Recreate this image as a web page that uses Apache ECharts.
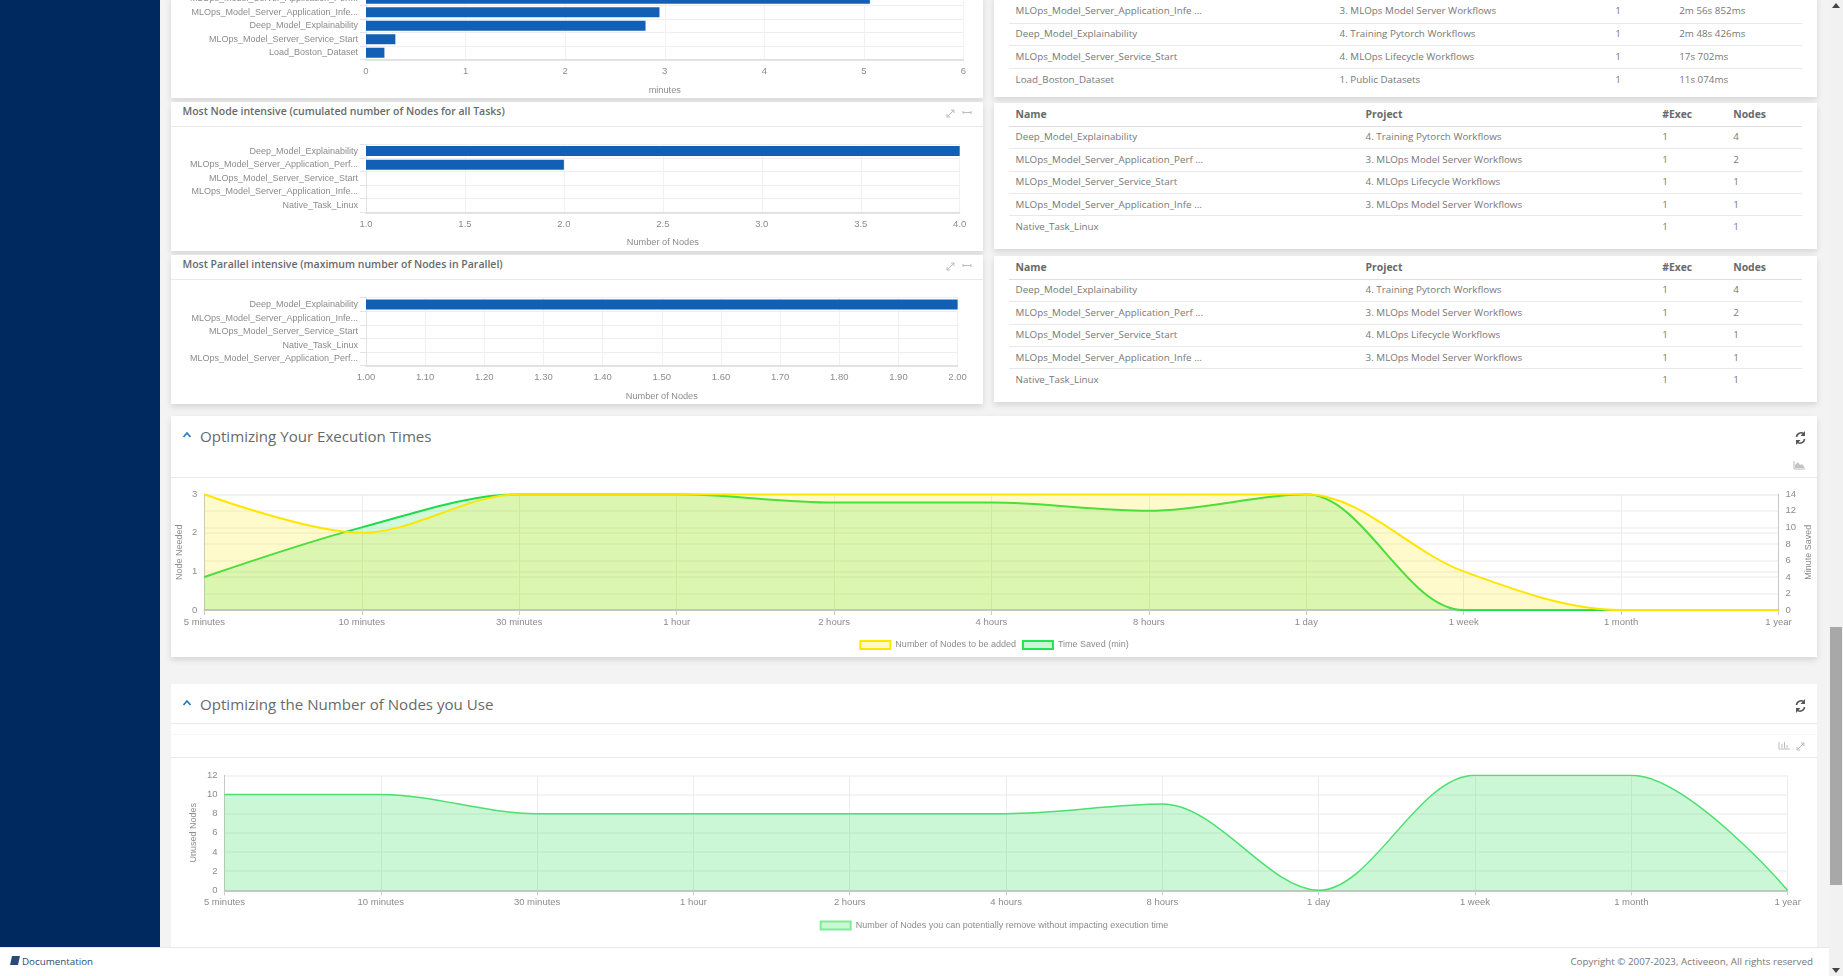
<!DOCTYPE html>
<html>
<head>
<meta charset="utf-8">
<title>Analytics</title>
<script src="https://cdn.jsdelivr.net/npm/echarts@6/dist/echarts.min.js"></script>
<style>
html,body{margin:0;padding:0;width:1843px;height:976px;overflow:hidden;background:#f3f3f4;font-family:"Open Sans",sans-serif;color:#676a6c;}
.abs{position:absolute;}
#side{left:0;top:0;width:160px;height:947px;background:#002a5f;}
.panel{position:absolute;background:#fff;box-shadow:0 3px 6px rgba(0,0,0,.12);}
.line{position:absolute;height:1px;background:#e7eaec;}
.ptitle{position:absolute;font-size:10.5px;font-weight:600;white-space:nowrap;line-height:16px;}
.stitle{position:absolute;font-size:15.1px;white-space:nowrap;line-height:22px;color:#676a6c;}
.chart{position:absolute;left:171px;}
table{position:absolute;left:1009px;width:793px;border-collapse:collapse;table-layout:fixed;font-size:9.800px;color:#777;}
td,th{padding:0 0 1.500px 6.6px;height:22.4px;border-bottom:1px solid #e7eaec;text-align:left;white-space:nowrap;overflow:hidden;box-sizing:border-box;}
th{color:#676a6c;font-weight:700;border-bottom:1px solid #dcdfe1;font-size:10.400px;padding-bottom:0;}
tr:last-child td{border-bottom:none;}
#tableTime td{height:22.800px;}
#foot{left:0;top:947px;width:1829px;height:29px;background:#fff;border-top:1px solid #e7eaec;box-sizing:border-box;font-size:9.800px;line-height:28px;}
#track{left:1829px;top:0;width:14px;height:976px;background:#f1f1f1;}
#thumb{left:1830px;top:627px;width:12px;height:258px;background:#a8a8a8;}
svg{position:absolute;overflow:visible;}
</style>
</head>
<body>
<div id="side" class="abs"></div>

<div class="panel" style="left:171px;top:-5px;width:812px;height:102.7px"></div>
<div class="panel" style="left:171px;top:101.7px;width:812px;height:149.3px"></div>
<div class="panel" style="left:171px;top:255px;width:812px;height:149.3px"></div>
<div class="panel" style="left:994px;top:-5px;width:823px;height:102.3px"></div>
<div class="panel" style="left:994px;top:103px;width:823px;height:146px"></div>
<div class="panel" style="left:994px;top:256px;width:823px;height:145.7px"></div>
<div class="panel" style="left:171px;top:415.7px;width:1646px;height:241.3px"></div>
<div class="panel" style="left:171px;top:684px;width:1646px;height:263px;box-shadow:none"></div>

<div class="line" style="left:171px;width:812px;top:126px"></div>
<div class="line" style="left:171px;width:812px;top:279px"></div>
<div class="line" style="left:171px;width:1646px;top:477px"></div>
<div class="line" style="left:171px;width:1646px;top:723px"></div>
<div class="line" style="left:171px;width:1646px;top:734px;background:#f6f6f6"></div>
<div class="line" style="left:171px;width:1646px;top:757px"></div>

<div class="ptitle" style="left:182.5px;top:103px">Most Node intensive (cumulated number of Nodes for all Tasks)</div>
<div class="ptitle" style="left:182.5px;top:256px">Most Parallel intensive (maximum number of Nodes in Parallel)</div>
<div class="stitle" style="left:200px;top:425px">Optimizing Your Execution Times</div>
<div class="stitle" style="left:200px;top:693px">Optimizing the Number of Nodes you Use</div>

<svg style="left:0;top:0" width="1" height="1" fill="none">
  <path d="M183.5 437 L187 433 L190.500 437" stroke="#2f7bbf" stroke-width="1.800"/>
  <path d="M183.500 705 L187 701 L190.500 705" stroke="#2f7bbf" stroke-width="1.800"/>
  <g stroke="#bbb" stroke-width="1">
    <path d="M947 117 L954 110 M951 110 L954 110 L954 113 M947 114 L947 117 L950 117"/>
    <path d="M963 112.500 L971 112.500 M963 111 L963 114 M971 111 L971 114"/>
    <path d="M947 270 L954 263 M951 263 L954 263 L954 266 M947 267 L947 270 L950 270"/>
    <path d="M963 265.500 L971 265.500 M963 264 L963 267 M971 264 L971 267"/>
    <path d="M1797 750 L1804 743 M1801 743 L1804 743 L1804 746 M1797 747 L1797 750 L1800 750"/>
    <path d="M1779 742 L1779 749 L1790 749 M1782 748 L1782 744 M1784.500 748 L1784.500 742 M1787 748 L1787 745"/>
    <path d="M1794 469 L1794 461 M1794 469 L1805 469"/>
  </g>
  <path d="M1795 468 L1795 465 L1798 462 L1800 465 L1802 464 L1805 468 Z" fill="#c4c4c4"/>
  <g stroke="#555" stroke-width="1.600">
    <path d="M1796.500 437 A4.500 4.500 0 0 1 1804 434 M1804.500 439 A4.500 4.500 0 0 1 1797 442"/>
    <path d="M1796.500 705 A4.500 4.500 0 0 1 1804 702 M1804.500 707 A4.500 4.500 0 0 1 1797 710"/>
  </g>
  <path d="M1805 431 L1805 436 L1800.500 436 Z M1796 445 L1796 440 L1800.500 440 Z M1805 699 L1805 704 L1800.500 704 Z M1796 713 L1796 708 L1800.500 708 Z" fill="#555"/>
</svg>

<div id="chartTime" class="chart" style="top:-30px;width:812px;height:127.700px"></div>
<div id="chartNode" class="chart" style="top:127px;width:812px;height:124px"></div>
<div id="chartParallel" class="chart" style="top:280px;width:812px;height:124px"></div>
<div id="chartExec" class="chart" style="top:478px;width:1646px;height:179px"></div>
<div id="chartUnused" class="chart" style="top:758px;width:1646px;height:189px"></div>

<table id="tableTime" style="top:0.300px"></table>
<table id="tableNode" style="top:103px"></table>
<table id="tableParallel" style="top:256px"></table>

<div id="foot" class="abs">
  <svg style="left:10px;top:8px" width="10" height="11"><path d="M2 0 H10 L8 9 H0 Z" fill="#2a4a78"/></svg>
  <span class="abs" style="left:22px;top:0;color:#2a4a78">Documentation</span>
  <span class="abs" style="right:16px;top:0;color:#777">Copyright © 2007-2023, Activeeon, All rights reserved</span>
</div>
<div id="track" class="abs"></div>
<div id="thumb" class="abs"></div>
<svg style="left:0;top:0" width="1" height="1">
  <path d="M1832 8 L1840 8 L1836 3 Z M1832 968 L1840 968 L1836 973 Z" fill="#444"/>
</svg>

<script>
// bar charts
const timeNames = ['MLOps_Model_Server_Application_Perf...','MLOps_Model_Server_Application_Infe...','Deep_Model_Explainability','MLOps_Model_Server_Service_Start','Load_Boston_Dataset'];
const timeValues = [5.06,2.947,2.807,0.295,0.185];
const nodeNames = ['Deep_Model_Explainability','MLOps_Model_Server_Application_Perf...','MLOps_Model_Server_Service_Start','MLOps_Model_Server_Application_Infe...','Native_Task_Linux'];
const nodeValues = [4,2,1,1,1];
const parallelNames = ['Deep_Model_Explainability','MLOps_Model_Server_Application_Infe...','MLOps_Model_Server_Service_Start','Native_Task_Linux','MLOps_Model_Server_Application_Perf...'];
const parallelValues = [2,1,1,1,1];

// area charts
const periods = ['5 minutes','10 minutes','30 minutes','1 hour','2 hours','4 hours','8 hours','1 day','1 week','1 month','1 year'];
const nodesToAdd = [3,2,3,3,3,3,3,3,1,0,0];
const timeSaved = [4,10,14,14,13,13,12,14,0,0,0];
const unusedNodes = [10,10,8,8,8,8,9,0,12,12,0];

// tables
const timeRows = [
  ['MLOps_Model_Server_Application_Infe ...','3. MLOps Model Server Workflows','1','2m 56s 852ms'],
  ['Deep_Model_Explainability','4. Training Pytorch Workflows','1','2m 48s 426ms'],
  ['MLOps_Model_Server_Service_Start','4. MLOps Lifecycle Workflows','1','17s 702ms'],
  ['Load_Boston_Dataset','1. Public Datasets','1','11s 074ms']
];
const nodeRows = [
  ['Deep_Model_Explainability','4. Training Pytorch Workflows','1','4'],
  ['MLOps_Model_Server_Application_Perf ...','3. MLOps Model Server Workflows','1','2'],
  ['MLOps_Model_Server_Service_Start','4. MLOps Lifecycle Workflows','1','1'],
  ['MLOps_Model_Server_Application_Infe ...','3. MLOps Model Server Workflows','1','1'],
  ['Native_Task_Linux','','1','1']
];
const tableHead = ['Name','Project','#Exec','Nodes'];

const axisFont = 'Liberation Sans';
const labelColor = '#8c8c8c';

const fillTable = (id, widths, head, rows) => {
  let html = '<colgroup>' + widths.map(w => '<col style="width:' + w + 'px">').join('') + '</colgroup>';
  if (head) {
    html += '<tr>' + head.map(h => '<th style="height:23.400px">' + h + '</th>').join('') + '</tr>';
  }
  rows.forEach(r => {
    html += '<tr>' + r.map(c => '<td>' + c + '</td>').join('') + '</tr>';
  });
  document.getElementById(id).innerHTML = html;
};
fillTable('tableTime', [324,275.600,64,129.400], null, timeRows);
fillTable('tableNode', [350,296.600,71,75.400], tableHead, nodeRows);
fillTable('tableParallel', [350,296.600,71,75.400], tableHead, nodeRows);

const barOption = (names, values, gridCfg, xCfg, xName) => ({
  animation: false,
  grid: Object.assign({outerBoundsMode: 'none'}, gridCfg),
  xAxis: Object.assign({
    type: 'value',
    name: xName,
    nameLocation: 'middle',
    nameGap: 26,
    nameTextStyle: {color: labelColor, fontSize: 9.200, fontFamily: axisFont},
    axisLine: {show: true, lineStyle: {color: '#dcdcdc', width: 1.500}},
    axisTick: {show: false},
    axisLabel: {color: labelColor, fontSize: 9.500, fontFamily: axisFont, margin: 7},
    splitLine: {show: true, lineStyle: {color: '#f1f1f1'}}
  }, xCfg),
  yAxis: {
    type: 'category',
    inverse: true,
    data: names,
    axisLine: {show: true, lineStyle: {color: '#e4e4e4'}},
    axisTick: {show: true, length: 6, lineStyle: {color: '#e4e4e4'}},
    axisLabel: {color: labelColor, fontSize: 9, fontFamily: axisFont, margin: 8, interval: 0},
    splitLine: {show: true, interval: 0, lineStyle: {color: '#eeeeee'}}
  },
  series: [{type: 'bar', data: values, barWidth: 10, itemStyle: {color: '#1260b5'}}]
});

const chartTime = echarts.init(document.getElementById('chartTime'));
chartTime.setOption(barOption(timeNames, timeValues,
  {left: 195, right: 19.500, top: 22, height: 67.500},
  {min: 0, max: 6, interval: 1}, 'minutes'));

const chartNode = echarts.init(document.getElementById('chartNode'));
chartNode.setOption(barOption(nodeNames, nodeValues,
  {left: 195, right: 23.300, top: 17.300, height: 68},
  {min: 1, max: 4, interval: 0.5, axisLabel: {color: labelColor, fontSize: 9.500, fontFamily: axisFont, margin: 7, formatter: v => v.toFixed(1)}}, 'Number of Nodes'));

const chartParallel = echarts.init(document.getElementById('chartParallel'));
chartParallel.setOption(barOption(parallelNames, parallelValues,
  {left: 195, right: 25.400, top: 17.700, height: 68},
  {min: 1, max: 2, interval: 0.1, axisLabel: {color: labelColor, fontSize: 9.500, fontFamily: axisFont, margin: 7, formatter: v => v.toFixed(2)}}, 'Number of Nodes'));

const periodAxis = {
  type: 'category',
  boundaryGap: false,
  data: periods,
  axisLine: {show: true, lineStyle: {color: '#b8b8b8', width: 1.500}},
  axisTick: {show: true, length: 5, lineStyle: {color: '#cccccc'}},
  axisLabel: {color: labelColor, fontSize: 9.500, fontFamily: axisFont, margin: 7, interval: 0},
  splitLine: {show: true, lineStyle: {color: '#ececec'}}
};
const valueAxis = (name, max, interval, pos, gap) => ({
  type: 'value',
  name: name,
  position: pos,
  nameLocation: 'middle',
  nameGap: gap,
  nameMoveOverlap: false,
  nameTextStyle: {color: labelColor, fontSize: 9, fontFamily: axisFont},
  min: 0,
  max: max,
  interval: interval,
  axisLine: {show: true, lineStyle: {color: '#c8c8c8'}},
  axisTick: {show: false},
  axisLabel: {color: labelColor, fontSize: 9.500, fontFamily: axisFont, margin: 7},
  splitLine: {show: true, lineStyle: {color: '#f0f0f0', width: 1.500}}
});
const swatch = (name, fill, border) => ({name: name, icon: 'rect', itemStyle: {color: fill, borderColor: border, borderWidth: 2}});

const chartExec = echarts.init(document.getElementById('chartExec'));
chartExec.setOption({
  animation: false,
  grid: {outerBoundsMode: 'none', left: 33.400, right: 38.500, top: 16.300, height: 115.700},
  legend: {
    left: 'center', top: 157, itemWidth: 30, itemHeight: 8, itemGap: 6,
    textStyle: {color: labelColor, fontSize: 9, fontFamily: axisFont},
    data: [swatch('Number of Nodes to be added', '#fff9c8', '#ffe600'), swatch('Time Saved (min)', '#ccf6d4', '#22e650')]
  },
  xAxis: periodAxis,
  yAxis: [valueAxis('Node Needed', 3, 1, 'left', 20), valueAxis('Minute Saved', 14, 2, 'right', 26)],
  series: [
    {name: 'Number of Nodes to be added', type: 'line', smooth: 0.33, showSymbol: false, yAxisIndex: 0, z: 3, data: nodesToAdd,
      lineStyle: {color: '#ffe600', width: 2}, itemStyle: {color: '#ffe600'}, areaStyle: {color: 'rgba(255,230,0,0.2)', opacity: 1}},
    {name: 'Time Saved (min)', type: 'line', smooth: 0.33, showSymbol: false, yAxisIndex: 1, z: 2, data: timeSaved,
      lineStyle: {color: '#1fdc4b', width: 2}, itemStyle: {color: '#1fdc4b'}, areaStyle: {color: 'rgba(31,225,75,0.2)', opacity: 1}}
  ]
});

const chartUnused = echarts.init(document.getElementById('chartUnused'));
chartUnused.setOption({
  animation: false,
  grid: {outerBoundsMode: 'none', left: 53.500, right: 29.400, top: 17.300, height: 115},
  legend: {
    left: 'center', top: 157.500, itemWidth: 30, itemHeight: 8,
    textStyle: {color: labelColor, fontSize: 9, fontFamily: axisFont},
    data: [swatch('Number of Nodes you can potentially remove without impacting execution time', '#ccf7d4', '#7fec97')]
  },
  xAxis: periodAxis,
  yAxis: valueAxis('Unused Nodes', 12, 2, 'left', 26),
  series: [{
    name: 'Number of Nodes you can potentially remove without impacting execution time',
    type: 'line', smooth: 0.33, showSymbol: false, data: unusedNodes,
    lineStyle: {color: '#4be06f', width: 1.500}, itemStyle: {color: '#4be06f'}, areaStyle: {color: 'rgba(49,222,91,0.25)', opacity: 1}
  }]
});
</script>
</body>
</html>
